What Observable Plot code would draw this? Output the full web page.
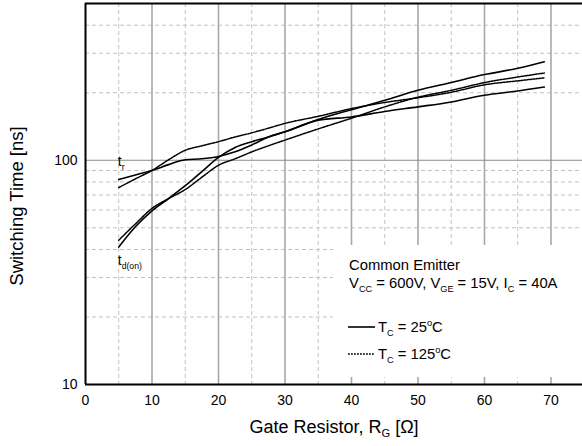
<!DOCTYPE html>
<html><head><meta charset="utf-8">
<script src="https://cdn.jsdelivr.net/npm/d3@7"></script>
<script src="https://cdn.jsdelivr.net/npm/@observablehq/plot@0.6"></script>
<style>html,body{margin:0;padding:0;background:#fff}svg{display:block}</style>
</head><body><div id="chart"></div>
<script>
// Gate resistor values (Ω)
const rg = [5, 7.5, 10, 12.5, 15, 17.5, 20, 22.5, 25, 27.5, 30, 35, 40, 45, 50, 55, 60, 65, 69];
// Switching times (ns)
const tdOn25  = [41, 50.5, 59.5, 67.5, 77, 89, 103, 114, 121, 127, 134, 152, 168, 185, 205, 222, 241, 257, 275];
const tr25    = [82, 86, 90, 95.6, 100.5, 101.5, 104, 109, 117, 127, 134, 151, 156, 165, 173, 182, 195, 203.5, 212];
const tdOn125 = [44, 52, 61, 67.5, 74, 84, 95, 101.5, 109, 116, 123, 138, 154, 173, 191, 205, 222, 235, 245];
const tr125   = [75.5, 82.6, 90, 100.5, 110.8, 116, 121, 127, 132.5, 139, 146, 157, 170, 181, 190, 201, 217, 226, 233];

const xTicks = [0, 10, 20, 30, 40, 50, 60, 70];
const xMajorGrid = [10, 20, 30, 40, 50, 60, 70];
const xMinorGrid = [5, 15, 25, 35, 45, 55, 65];
const yTicks = [10, 100];
const yMajorGrid = [100];
const yMinorGrid = [20, 30, 40, 50, 60, 70, 80, 90, 200, 300, 400];
const xDomain = [0, 74.74];
const yDomain = [10, 500];
const legendBox = {x1: 37.3, x2: 74.74, y1: 10.75, y2: 41.7};

function series(name, temp, vals) { return rg.map((x, i) => ({x, y: vals[i], name, temp})); }
const data = [
  ...series("td(on)", 25, tdOn25),
  ...series("tr", 25, tr25),
  ...series("td(on)", 125, tdOn125),
  ...series("tr", 125, tr125)
];

const font = "'Liberation Sans', Arial, Helvetica, sans-serif";
const dotted = "1.8,1.2";

const chart = Plot.plot({
  width: 582, height: 446,
  marginLeft: 85, marginRight: 0, marginTop: 3, marginBottom: 62,
  style: {fontFamily: font, fontSize: "14px", background: "#fff", color: "#000", overflow: "visible"},
  x: {domain: xDomain, ticks: xTicks, tickSize: 0, tickPadding: 11, label: null, tickFormat: d => String(d)},
  y: {type: "log", domain: yDomain, ticks: yTicks, tickSize: 0, tickPadding: 8, label: null, tickFormat: d => String(d)},
  marks: [
    Plot.ruleX(xMinorGrid, {stroke: "#c2c2c2", strokeDasharray: "4,3", strokeWidth: 1}),
    Plot.ruleY(yMinorGrid, {stroke: "#c2c2c2", strokeDasharray: "4,3", strokeWidth: 1}),
    Plot.ruleX(xMajorGrid, {stroke: "#a8a8a8", strokeWidth: 1.6}),
    Plot.ruleY(yMajorGrid, {stroke: "#8a8a8a", strokeWidth: 1.2}),
    Plot.rect([legendBox], {x1: "x1", x2: "x2", y1: "y1", y2: "y2", fill: "#fff"}),
    Plot.ruleY([yDomain[0]], {stroke: "#000", strokeWidth: 2}),
    Plot.ruleY([yDomain[1]], {stroke: "#000", strokeWidth: 2}),
    Plot.ruleX([xDomain[0]], {stroke: "#000", strokeWidth: 2}),
    Plot.line(data.filter(d => d.temp === 25), {x: "x", y: "y", z: "name", curve: "monotone-x", stroke: "#000", strokeWidth: 1.6}),
    Plot.line(data.filter(d => d.temp === 125), {x: "x", y: "y", z: "name", curve: "monotone-x", stroke: "#000", strokeWidth: 1.5, strokeDasharray: dotted})
  ]
});
document.getElementById("chart").appendChild(chart);

const svg = d3.select(chart);
const sx = chart.scale("x");

function rich(x, y, parts, size, attrs = {}) {
  const t = svg.append("text").attr("x", x).attr("y", y)
    .attr("font-family", font).attr("font-size", size).attr("fill", "#000")
    .attr("text-anchor", "start");
  for (const k in attrs) t.attr(k, attrs[k]);
  let shift = 0;
  for (const [s, kind] of parts) {
    const target = kind === "sub" ? 4 : kind === "sup" ? -6 : 0;
    const ts = t.append("tspan").text(s).attr("dy", target - shift);
    if (kind) ts.attr("font-size", size * 0.62);
    shift = target;
  }
  return t;
}

// Axis titles
rich(334, 433, [["Gate Resistor, R"], ["G", "sub"], [" [Ω]"]], 18, {"text-anchor": "middle"});
rich(0, 0, [["Switching Time [ns]"]], 18.5, {"text-anchor": "middle", transform: "translate(23,206) rotate(-90)"});

// Curve labels
const lx = sx.apply(rg[0]);
rich(lx - 0.5, 166, [["t"], ["r", "sub"]], 14);
rich(lx - 0.5, 265, [["t"], ["d(on)", "sub"]], 14);

// Annotation / legend
const ax = 349;
rich(ax, 270, [["Common Emitter"]], 14.8);
rich(ax, 288, [["V"], ["CC", "sub"], [" = 600V, V"], ["GE", "sub"], [" = 15V, I"], ["C", "sub"], [" = 40A"]], 14.8);
svg.append("line").attr("x1", 348).attr("x2", 375).attr("y1", 327).attr("y2", 327)
  .attr("stroke", "#000").attr("stroke-width", 1.6);
rich(378, 332, [["T"], ["C", "sub"], [" = 25"], ["o", "sup"], ["C"]], 14.8);
svg.append("line").attr("x1", 348).attr("x2", 375).attr("y1", 354).attr("y2", 354)
  .attr("stroke", "#000").attr("stroke-width", 1.5).attr("stroke-dasharray", dotted);
rich(378, 359, [["T"], ["C", "sub"], [" = 125"], ["o", "sup"], ["C"]], 14.8);
</script>
</body></html>
